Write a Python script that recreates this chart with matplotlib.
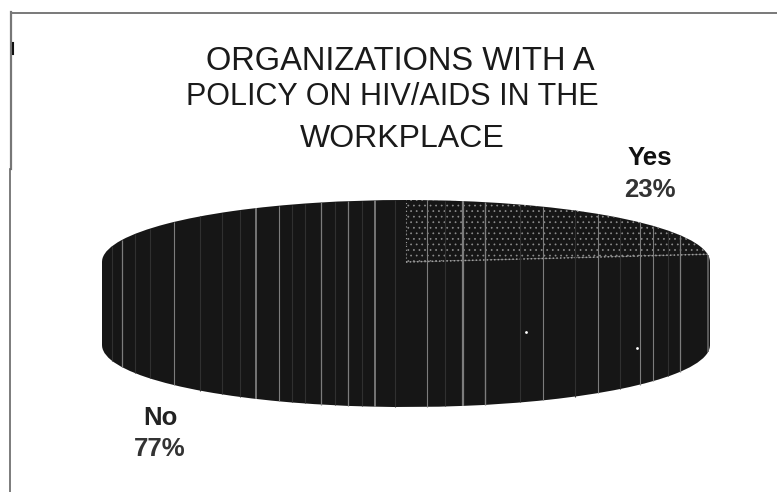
import numpy as np
import matplotlib
matplotlib.use("Agg")
import matplotlib.pyplot as plt

plt.rcParams['font.family'] = ['Liberation Sans', 'DejaVu Sans']
plt.rcParams['hatch.linewidth'] = 0.5

labels = ['Yes', 'No']
shares = [23, 77]
title_lines = ['ORGANIZATIONS WITH A', 'POLICY ON HIV/AIDS IN THE', 'WORKPLACE']

# scanner streaks across the pie, x in pixels of the page
streaks = [122, 174, 256, 279, 321, 348, 375, 427, 463, 485, 543, 598, 640, 653, 680]
streak_widths = [0.9, 0.8, 1.3, 0.8, 0.9, 0.9, 1.3, 0.8, 1.6, 1.0, 0.8, 0.8, 0.8, 0.8, 0.9]
faint_streaks = [112, 135, 150, 200, 222, 240, 292, 305, 335, 362, 395, 445, 520, 575, 620, 668]
specks = [(526, 332), (637, 348)]

W, H = 777, 492
cx, rx, ry = 406, 304, 62
top, depth = 200, 83
dark = '#161616'

fig = plt.figure(figsize=(W / 100, H / 100), dpi=100, facecolor='white')

# pie gets its own axes so it can be squashed to an ellipse
pie_bottom = top + 2 * ry + depth
ax_pie = fig.add_axes([(cx - rx) / W, 1 - pie_bottom / H, 2 * rx / W, (pie_bottom - top) / H])
d = depth / ry

# side wall: bottom face plus the block joining it to the top face
ax_pie.pie(shares, radius=1, center=(0, -d), colors=[dark, dark], startangle=90, counterclock=False)
ax_pie.fill_between([-1, 1], -d, 0, color=dark, lw=0)

# top face
wedges, _ = ax_pie.pie(shares, radius=1, startangle=90, counterclock=False, colors=[dark, dark])
wedges[0].set(edgecolor='#8e8e8e', hatch='...', linewidth=0)
ang = np.deg2rad(wedges[0].theta1)
ax_pie.plot([0, np.cos(ang)], [0, np.sin(ang)], color='#a0a0a0', lw=1.1, ls=(0, (1, 1.4)))
ax_pie.plot([0, 0], [0, 1], color='#a0a0a0', lw=0.8, ls=(0, (1, 2.5)))

ax_pie.set_aspect('auto')
ax_pie.set_xlim(-1, 1)
ax_pie.set_ylim(-1 - d, 1)
ax_pie.axis('off')

# overlay in page pixels: frame, streaks, text
ax = fig.add_axes([0, 0, 1, 1], facecolor='none')
ax.set_xlim(0, W)
ax.set_ylim(H, 0)
ax.axis('off')

ax.plot([11, 777], [13, 13], color='#555555', lw=1.1)
ax.plot([11, 11], [12, 169], color='#777777', lw=1.6)
ax.plot([9.5, 9.5], [169, 492], color='#666666', lw=1.2)
ax.plot([12.5, 12.5], [43, 54], color='#111111', lw=1.5)

def span(px):
    t = (px - cx) / rx
    h = ry * np.sqrt(1 - t * t)
    return top + ry - h, top + ry + depth + h

for x, w in zip(streaks, streak_widths):
    y0, y1 = span(x)
    ax.plot([x, x], [y0, y1], color='#7c7c7c', lw=w, solid_capstyle='butt')
for x in faint_streaks:
    y0, y1 = span(x)
    ax.plot([x, x], [y0, y1], color='#303030', lw=0.8, solid_capstyle='butt')
y0, y1 = span(708)
ax.plot([708, 708], [y0, y1], color='#666666', lw=1.2, solid_capstyle='butt')

ax.scatter(*zip(*specks), s=4, color='white', lw=0)

# the scan drifts, so each title line has its own centre and width
for line, x, y, size in zip(title_lines, [400, 392, 402], [62, 97, 139], [23.5, 22, 23]):
    ax.text(x, y, line, ha='center', va='center', fontsize=size, color='#1a1a1a')

ax.text(650, 158, labels[0], ha='center', va='center', fontsize=18.5, fontweight='bold', color='#111111')
ax.text(650, 190, f'{shares[0]}%', ha='center', va='center', fontsize=18.5, fontweight='bold', color='#333333')
ax.text(160, 418, labels[1], ha='center', va='center', fontsize=18.5, fontweight='bold', color='#222222')
ax.text(160, 449, f'{shares[1]}%', ha='center', va='center', fontsize=18.5, fontweight='bold', color='#333333')

fig.savefig('out.png', dpi=100)
